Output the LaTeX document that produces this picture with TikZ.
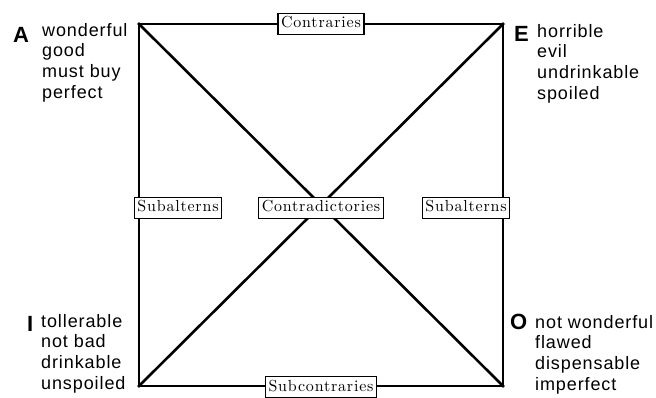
\documentclass[tikz,border=0pt]{standalone}
\usepackage{fontspec}
\newfontfamily\cornerfont{Liberation Sans}[LetterSpace=5]
\newfontfamily\letterfont{Liberation Sans}
\newfontfamily\relfont{lmroman10-regular.otf}[LetterSpace=5]
\usetikzlibrary{positioning}
\tikzstyle{relation} = [rectangle, draw=black, line width=1.3pt, fill=white, inner xsep=3pt, inner ysep=3pt, text height=11.5pt, text depth=3.5pt, font=\relfont\fontsize{16}{18}\selectfont]
\tikzstyle{corner} = [inner sep=0pt, font=\letterfont\bfseries\fontsize{22}{24}\selectfont]
\tikzstyle{terms} = [inner sep=0pt, align=left, anchor=north west, font=\cornerfont\fontsize{18}{20.7}\selectfont]
\tikzstyle{edge} = [line width=2.6pt, line cap=rect]

\begin{document}
\begin{tikzpicture}[x=1pt, y=-1pt]
    \useasboundingbox (0,0) rectangle (656,398);
    % corners of the square
    \coordinate (a) at (139,24);
    \coordinate (e) at (503,24);
    \coordinate (i) at (139,386);
    \coordinate (o) at (503,386);

    % sides and diagonals
    \draw [edge] (a) -- (e) -- (o) -- (i) -- cycle;
    \draw [edge] (a) -- (o);
    \draw [edge] (e) -- (i);

    % relation labels
    \path (a) -- node[relation] (contraries) {Contraries} (e);
    \path (i) -- node[relation, yshift=-1pt] (subcontraries) {Subcontraries} (o);
    \path (a) -- node[relation, xshift=39pt, yshift=-3pt] (subaltl) {Subalterns} (i);
    \path (e) -- node[relation, xshift=-37pt, yshift=-3pt] (subaltr) {Subalterns} (o);
    \path (a) -- node[relation, yshift=-3pt] (contradict) {Contradictories} (o);

    % corner letters
    \node (la) [corner, anchor=base west] at (13,43) {A};
    \node (le) [corner, anchor=base west] at (514,42) {E};
    \node (li) [corner, anchor=base west] at (27,331) {I};
    \node (lo) [corner, anchor=base west] at (510,329) {O};

    % corner terms
    \node (ta) [terms] at (42,23) {wonderful\\good\\must buy\\perfect};
    \node (te) [terms] at (537,24) {horrible\\evil\\undrinkable\\spoiled};
    \node (ti) [terms] at (41,314) {tollerable\\not bad\\drinkable\\unspoiled};
    \node (to) [terms] at (535,315) {not wonderful\\flawed\\dispensable\\imperfect};
\end{tikzpicture}
\end{document}
